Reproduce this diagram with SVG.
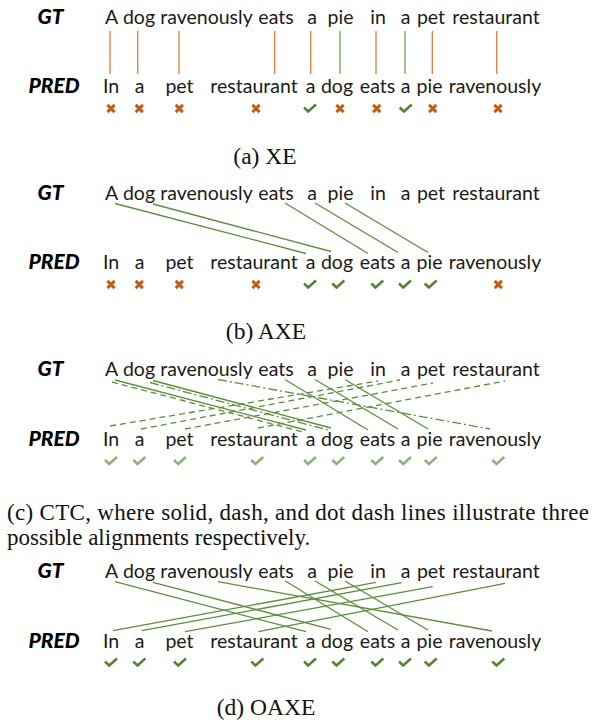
<svg xmlns="http://www.w3.org/2000/svg" width="592" height="720" viewBox="0 0 592 720">
<defs>
<style>
.w{font-family:Lato,"Open Sans","Liberation Sans",sans-serif;font-size:19.5px;fill:#1a1a1a;text-anchor:middle}
.lb{font-family:Lato,"Liberation Sans",sans-serif;font-size:21px;font-weight:900;font-style:italic;fill:#000;text-anchor:middle}
.cap{font-family:"Liberation Serif","Times New Roman",serif;font-size:23.5px;fill:#111}
.cap2{font-family:"Liberation Serif","Times New Roman",serif;font-size:23px;fill:#111}
.lo{stroke:#E07B39;stroke-width:1.3;fill:none}
.lg{stroke:#6FA14A;stroke-width:1.3;fill:none}
.ln{stroke:#5B8E3A;stroke-width:1.3;fill:none}
.ds{stroke-dasharray:6 4}
.dd{stroke-dasharray:9 3 2 3}
</style>
<path id="x" d="M-3.6,-3.6 L3.6,3.6 M3.6,-3.6 L-3.6,3.6" stroke="#C55A11" stroke-width="2.9" fill="none"/>
<path id="ck" d="M-6,-1 L-1.8,3 L6,-4" stroke="#548235" stroke-width="2.5" fill="none"/>
<path id="ckl" d="M-6,-1 L-1.8,3 L6,-4" stroke="#8CB27A" stroke-width="2.5" fill="none"/>
</defs>

<!-- Panel (a) -->
<g id="panel-a">
<g id="a-labels"><text class="lb" x="50.5" y="24">GT</text><text class="lb" x="54" y="93">PRED</text></g>
<g id="a-gt">
<g id="a-gt-1"><text class="w" x="111.5" y="24">A</text></g>
<g id="a-gt-2"><text class="w" x="139" y="24">dog</text></g>
<g id="a-gt-3"><text class="w" x="206.5" y="24">ravenously</text></g>
<g id="a-gt-4"><text class="w" x="276" y="24">eats</text></g>
<g id="a-gt-5"><text class="w" x="312" y="24">a</text></g>
<g id="a-gt-6"><text class="w" x="340.5" y="24">pie</text></g>
<g id="a-gt-7"><text class="w" x="378" y="24">in</text></g>
<g id="a-gt-8"><text class="w" x="405.5" y="24">a</text></g>
<g id="a-gt-9"><text class="w" x="431" y="24">pet</text></g>
<g id="a-gt-10"><text class="w" x="496" y="24">restaurant</text></g>
</g>
<g id="a-pred">
<g id="a-pr-1"><text class="w" x="111" y="93">In</text></g>
<g id="a-pr-2"><text class="w" x="139.5" y="93">a</text></g>
<g id="a-pr-3"><text class="w" x="179.5" y="93">pet</text></g>
<g id="a-pr-4"><text class="w" x="254" y="93">restaurant</text></g>
<g id="a-pr-5"><text class="w" x="310.5" y="93">a</text></g>
<g id="a-pr-6"><text class="w" x="337" y="93">dog</text></g>
<g id="a-pr-7"><text class="w" x="377.5" y="93">eats</text></g>
<g id="a-pr-8"><text class="w" x="405.5" y="93">a</text></g>
<g id="a-pr-9"><text class="w" x="429.5" y="93">pie</text></g>
<g id="a-pr-10"><text class="w" x="495" y="93">ravenously</text></g>
</g>
<g id="a-connectors">
<line class="lo" x1="110" y1="31" x2="110" y2="74"/>
<line class="lo" x1="137.7" y1="31" x2="137.7" y2="74"/>
<line class="lo" x1="179" y1="31" x2="179" y2="74"/>
<line class="lo" x1="274.7" y1="31" x2="274.7" y2="74"/>
<line class="lo" x1="310.7" y1="31" x2="310.7" y2="74"/>
<line class="lg" x1="340" y1="31" x2="340" y2="74"/>
<line class="lo" x1="376" y1="31" x2="376" y2="74"/>
<line class="lg" x1="405" y1="31" x2="405" y2="74"/>
<line class="lo" x1="432.3" y1="31" x2="432.3" y2="74"/>
<line class="lo" x1="496.7" y1="31" x2="496.7" y2="74"/>
</g>
<g id="a-marks">
<use href="#x" x="111" y="108.5"/><use href="#x" x="139.3" y="108.5"/><use href="#x" x="179.3" y="108.5"/><use href="#x" x="256" y="108.5"/>
<use href="#ck" x="310" y="108.5"/><use href="#x" x="340" y="108.5"/><use href="#x" x="376.7" y="108.5"/><use href="#ck" x="405.7" y="108.5"/>
<use href="#x" x="432.7" y="108.5"/><use href="#x" x="498" y="108.5"/>
</g>
<text id="cap-a" class="cap" x="265" y="164" text-anchor="middle">(a) XE</text>
</g>

<!-- Panel (b) -->
<g id="panel-b" transform="translate(0,176)">
<g id="b-labels"><text class="lb" x="50.5" y="24">GT</text><text class="lb" x="54" y="93">PRED</text></g>
<g id="b-gt">
<g id="b-gt-1"><text class="w" x="111.5" y="24">A</text></g>
<g id="b-gt-2"><text class="w" x="139" y="24">dog</text></g>
<g id="b-gt-3"><text class="w" x="206.5" y="24">ravenously</text></g>
<g id="b-gt-4"><text class="w" x="276" y="24">eats</text></g>
<g id="b-gt-5"><text class="w" x="312" y="24">a</text></g>
<g id="b-gt-6"><text class="w" x="340.5" y="24">pie</text></g>
<g id="b-gt-7"><text class="w" x="378" y="24">in</text></g>
<g id="b-gt-8"><text class="w" x="405.5" y="24">a</text></g>
<g id="b-gt-9"><text class="w" x="431" y="24">pet</text></g>
<g id="b-gt-10"><text class="w" x="496" y="24">restaurant</text></g>
</g>
<g id="b-pred">
<g id="b-pr-1"><text class="w" x="111" y="93">In</text></g>
<g id="b-pr-2"><text class="w" x="139.5" y="93">a</text></g>
<g id="b-pr-3"><text class="w" x="179.5" y="93">pet</text></g>
<g id="b-pr-4"><text class="w" x="254" y="93">restaurant</text></g>
<g id="b-pr-5"><text class="w" x="310.5" y="93">a</text></g>
<g id="b-pr-6"><text class="w" x="337" y="93">dog</text></g>
<g id="b-pr-7"><text class="w" x="377.5" y="93">eats</text></g>
<g id="b-pr-8"><text class="w" x="405.5" y="93">a</text></g>
<g id="b-pr-9"><text class="w" x="429.5" y="93">pie</text></g>
<g id="b-pr-10"><text class="w" x="495" y="93">ravenously</text></g>
</g>
<g id="b-connectors">
<line class="ln" x1="115" y1="27.5" x2="306" y2="77.5"/>
<line class="ln" x1="153" y1="28" x2="331" y2="75.5"/>
<line class="ln" x1="285" y1="27" x2="368" y2="77.5"/>
<line class="ln" x1="315" y1="27" x2="398" y2="76.5"/>
<line class="ln" x1="345" y1="27" x2="428" y2="76.5"/>
</g>
<g id="b-marks">
<use href="#x" x="111" y="108.5"/><use href="#x" x="139.3" y="108.5"/><use href="#x" x="179.3" y="108.5"/><use href="#x" x="256" y="108.5"/>
<use href="#ck" x="310" y="108.5"/><use href="#ck" x="338.3" y="108.5"/><use href="#ck" x="377.3" y="108.5"/><use href="#ck" x="405" y="108.5"/>
<use href="#ck" x="430.7" y="108.5"/><use href="#x" x="498.3" y="108.5"/>
</g>
<text id="cap-b" class="cap" x="266" y="163" text-anchor="middle">(b) AXE</text>
</g>

<!-- Panel (c) -->
<g id="panel-c" transform="translate(0,352)">
<g id="c-labels"><text class="lb" x="50.5" y="24">GT</text><text class="lb" x="54" y="94">PRED</text></g>
<g id="c-gt">
<g id="c-gt-1"><text class="w" x="111.5" y="24">A</text></g>
<g id="c-gt-2"><text class="w" x="139" y="24">dog</text></g>
<g id="c-gt-3"><text class="w" x="206.5" y="24">ravenously</text></g>
<g id="c-gt-4"><text class="w" x="276" y="24">eats</text></g>
<g id="c-gt-5"><text class="w" x="312" y="24">a</text></g>
<g id="c-gt-6"><text class="w" x="340.5" y="24">pie</text></g>
<g id="c-gt-7"><text class="w" x="378" y="24">in</text></g>
<g id="c-gt-8"><text class="w" x="405.5" y="24">a</text></g>
<g id="c-gt-9"><text class="w" x="431" y="24">pet</text></g>
<g id="c-gt-10"><text class="w" x="496" y="24">restaurant</text></g>
</g>
<g id="c-pred">
<g id="c-pr-1"><text class="w" x="111" y="94">In</text></g>
<g id="c-pr-2"><text class="w" x="139.5" y="94">a</text></g>
<g id="c-pr-3"><text class="w" x="179.5" y="94">pet</text></g>
<g id="c-pr-4"><text class="w" x="254" y="94">restaurant</text></g>
<g id="c-pr-5"><text class="w" x="310.5" y="94">a</text></g>
<g id="c-pr-6"><text class="w" x="337" y="94">dog</text></g>
<g id="c-pr-7"><text class="w" x="377.5" y="94">eats</text></g>
<g id="c-pr-8"><text class="w" x="405.5" y="94">a</text></g>
<g id="c-pr-9"><text class="w" x="429.5" y="94">pie</text></g>
<g id="c-pr-10"><text class="w" x="495" y="94">ravenously</text></g>
</g>
<g id="c-connectors">
<line class="ln" x1="115" y1="28" x2="306" y2="78"/>
<line class="ln" x1="153" y1="28.5" x2="331" y2="76"/>
<line class="ln" x1="285" y1="27.5" x2="368" y2="78"/>
<line class="ln" x1="315" y1="27.5" x2="398" y2="77"/>
<line class="ln" x1="345" y1="27.5" x2="428" y2="77"/>
<line class="ln ds" x1="112" y1="30" x2="303" y2="80"/>
<line class="ln ds" x1="110" y1="74" x2="378" y2="29"/>
<line class="ln ds" x1="141" y1="77" x2="400" y2="28"/>
<line class="ln ds" x1="185" y1="77" x2="433" y2="31"/>
<line class="ln ds" x1="258" y1="76" x2="505" y2="29"/>
<line class="ln dd" x1="150" y1="30.5" x2="328" y2="78"/>
<line class="ln dd" x1="218" y1="27.5" x2="490" y2="77"/>
</g>
<g id="c-marks">
<use href="#ckl" x="111" y="109"/><use href="#ckl" x="139.3" y="109"/><use href="#ckl" x="180" y="109"/><use href="#ckl" x="257.3" y="109"/>
<use href="#ckl" x="310" y="109"/><use href="#ckl" x="338.3" y="109"/><use href="#ckl" x="377.3" y="109"/><use href="#ckl" x="405" y="109"/>
<use href="#ckl" x="430.7" y="109"/><use href="#ckl" x="498.3" y="109"/>
</g>
<g id="cap-c">
<text class="cap2" x="7" y="168" textLength="582" lengthAdjust="spacing">(c) CTC, where solid, dash, and dot dash lines illustrate three</text>
<text class="cap2" x="7" y="193">possible alignments respectively.</text>
</g>
</g>

<!-- Panel (d) -->
<g id="panel-d" transform="translate(0,554)">
<g id="d-labels"><text class="lb" x="50.5" y="24">GT</text><text class="lb" x="54" y="94">PRED</text></g>
<g id="d-gt">
<g id="d-gt-1"><text class="w" x="111.5" y="24">A</text></g>
<g id="d-gt-2"><text class="w" x="139" y="24">dog</text></g>
<g id="d-gt-3"><text class="w" x="206.5" y="24">ravenously</text></g>
<g id="d-gt-4"><text class="w" x="276" y="24">eats</text></g>
<g id="d-gt-5"><text class="w" x="312" y="24">a</text></g>
<g id="d-gt-6"><text class="w" x="340.5" y="24">pie</text></g>
<g id="d-gt-7"><text class="w" x="378" y="24">in</text></g>
<g id="d-gt-8"><text class="w" x="405.5" y="24">a</text></g>
<g id="d-gt-9"><text class="w" x="431" y="24">pet</text></g>
<g id="d-gt-10"><text class="w" x="496" y="24">restaurant</text></g>
</g>
<g id="d-pred">
<g id="d-pr-1"><text class="w" x="111" y="94">In</text></g>
<g id="d-pr-2"><text class="w" x="139.5" y="94">a</text></g>
<g id="d-pr-3"><text class="w" x="179.5" y="94">pet</text></g>
<g id="d-pr-4"><text class="w" x="254" y="94">restaurant</text></g>
<g id="d-pr-5"><text class="w" x="310.5" y="94">a</text></g>
<g id="d-pr-6"><text class="w" x="337" y="94">dog</text></g>
<g id="d-pr-7"><text class="w" x="377.5" y="94">eats</text></g>
<g id="d-pr-8"><text class="w" x="405.5" y="94">a</text></g>
<g id="d-pr-9"><text class="w" x="429.5" y="94">pie</text></g>
<g id="d-pr-10"><text class="w" x="495" y="94">ravenously</text></g>
</g>
<g id="d-connectors">
<line class="ln" x1="115" y1="27.7" x2="306" y2="77.7"/>
<line class="ln" x1="153" y1="28.3" x2="331" y2="75.3"/>
<line class="ln" x1="218" y1="27.7" x2="492" y2="77"/>
<line class="ln" x1="285" y1="26.7" x2="368" y2="77.7"/>
<line class="ln" x1="315" y1="27" x2="398" y2="76"/>
<line class="ln" x1="345" y1="27" x2="428" y2="76"/>
<line class="ln" x1="113" y1="76.7" x2="376" y2="28.3"/>
<line class="ln" x1="141.7" y1="76.7" x2="401.7" y2="28.7"/>
<line class="ln" x1="185" y1="77.7" x2="432.7" y2="32.7"/>
<line class="ln" x1="258.3" y1="77.7" x2="505" y2="29.3"/>
</g>
<g id="d-marks">
<use href="#ck" x="111" y="108.5"/><use href="#ck" x="139.3" y="108.5"/><use href="#ck" x="180" y="108.5"/><use href="#ck" x="257.3" y="108.5"/>
<use href="#ck" x="310" y="108.5"/><use href="#ck" x="338.3" y="108.5"/><use href="#ck" x="377.3" y="108.5"/><use href="#ck" x="405" y="108.5"/>
<use href="#ck" x="430.7" y="108.5"/><use href="#ck" x="498.3" y="108.5"/>
</g>
<text id="cap-d" class="cap" x="266" y="161" text-anchor="middle">(d) OAXE</text>
</g>
</svg>
